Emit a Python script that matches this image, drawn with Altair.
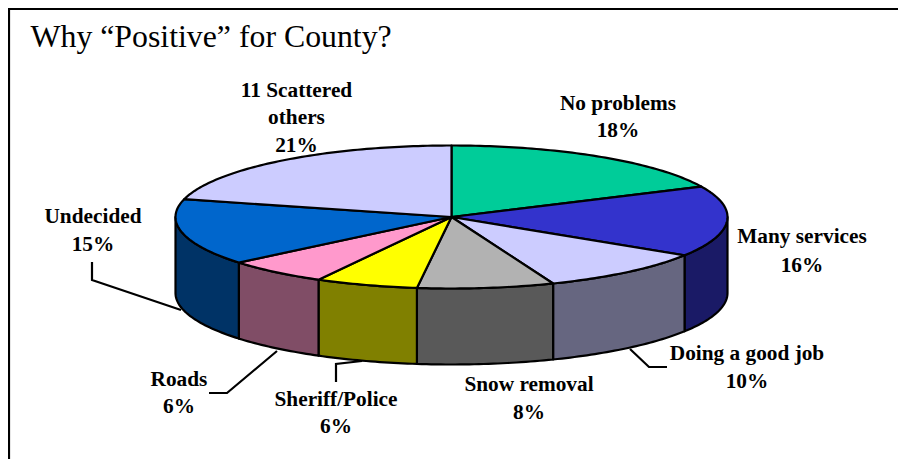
import math
import altair as alt

names = ["No problems", "Many services", "Doing a good job", "Snow removal",
         "Sheriff/Police", "Roads", "Undecided", "11 Scattered others"]
shares = [18, 16, 10, 8, 6, 6, 15, 21]
top_colors = ["#00CC99", "#3333CC", "#CCCCFF", "#B2B2B2", "#FFFF00", "#FF99CC", "#0066CC", "#CCCCFF"]
side_colors = ["#006650", "#1A1A66", "#666680", "#595959", "#808000", "#804D66", "#003366", "#666680"]

title_text = "Why “Positive” for County?"
label_lines = [
    ["11 Scattered", "others", "21%"], ["No problems", "18%"], ["Undecided", "15%"],
    ["Many services", "16%"], ["Doing a good job", "10%"], ["Snow removal", "8%"],
    ["Sheriff/Police", "6%"], ["Roads", "6%"],
]
label_x = [296.5, 618, 93, 802, 747, 529, 336, 179]
label_y = [[97, 124, 152], [110, 137], [223, 251], [243, 272], [360, 388], [391, 419], [406, 433], [386, 413]]
leaders = [
    [[92, 262], [92, 280], [181, 310]],
    [[209, 393], [227, 393], [277, 351]],
    [[336, 382], [336, 364], [362, 361]],
    [[630, 349], [649, 367], [667, 367]],
]
frame = [[9, 459], [9, 9], [906, 9]]

CX, CY, RX, RY, DEPTH = 451.5, 217, 276, 71.5, 76


def rim(deg, dy=0):
    a = math.radians(deg)
    return [CX + RX * math.sin(a), CY - RY * math.cos(a) + dy]


def arc(a0, a1, dy=0):
    n = max(2, int(abs(a1 - a0)) + 1)
    return [rim(a0 + (a1 - a0) * i / n, dy) for i in range(n + 1)]


def feature(geom_type, coords, fill="none"):
    return {"type": "Feature", "properties": {"fill": fill},
            "geometry": {"type": geom_type, "coordinates": coords}}


tops, sides = [], []
start = 0.0
for share, top, side in zip(shares, top_colors, side_colors):
    end = start + share * 3.6
    ring = [[CX, CY]] + arc(start, end) + [[CX, CY]]
    tops.append(feature("Polygon", [ring], top))
    lo, hi = max(start, 90), min(end, 270)
    if lo < hi:
        front = arc(lo, hi)
        back = arc(hi, lo, DEPTH)
        sides.append(feature("Polygon", [front + back + [front[0]]], side))
    start = end

texts = []
for lines, x, ys in zip(label_lines, label_x, label_y):
    for line, y in zip(lines, ys):
        texts.append({"t": line, "lon": x, "lat": y})

proj = dict(type="identity", scale=1, translate=[-8, -8])

shape_fill = alt.Color("properties.fill:N", scale=None)

sides_layer = alt.Chart(alt.Data(values=sides)).mark_geoshape(
    stroke="#000000", strokeWidth=2.2, strokeJoin="round").encode(color=shape_fill).project(**proj)
tops_layer = alt.Chart(alt.Data(values=tops)).mark_geoshape(
    stroke="#000000", strokeWidth=2.2, strokeJoin="round").encode(color=shape_fill).project(**proj)
line_layer = alt.Chart(alt.Data(values=[feature("LineString", l) for l in leaders + [frame]])).mark_geoshape(
    filled=False, stroke="#000000", strokeWidth=2.2, strokeJoin="miter").project(**proj)
label_layer = alt.Chart(alt.Data(values=texts)).mark_text(
    font="Liberation Serif", fontWeight="bold", fontSize=21.3, color="#000000",
    align="center", baseline="alphabetic").encode(
    longitude="lon:Q", latitude="lat:Q", text="t:N").project(**proj)
title_layer = alt.Chart(alt.Data(values=[{"t": title_text, "lon": 30.5, "lat": 47}])).mark_text(
    font="Liberation Serif", fontSize=31.8, color="#000000",
    align="left", baseline="alphabetic").encode(
    longitude="lon:Q", latitude="lat:Q", text="t:N").project(**proj)

chart = alt.layer(sides_layer, tops_layer, line_layer, label_layer, title_layer).properties(
    width=890, height=451, padding=0, background="#FFFFFF",
    autosize=alt.AutoSizeParams(type="none"),
).configure_view(stroke=None)

chart.save("out.html", embed_options={"renderer": "svg", "actions": False})
